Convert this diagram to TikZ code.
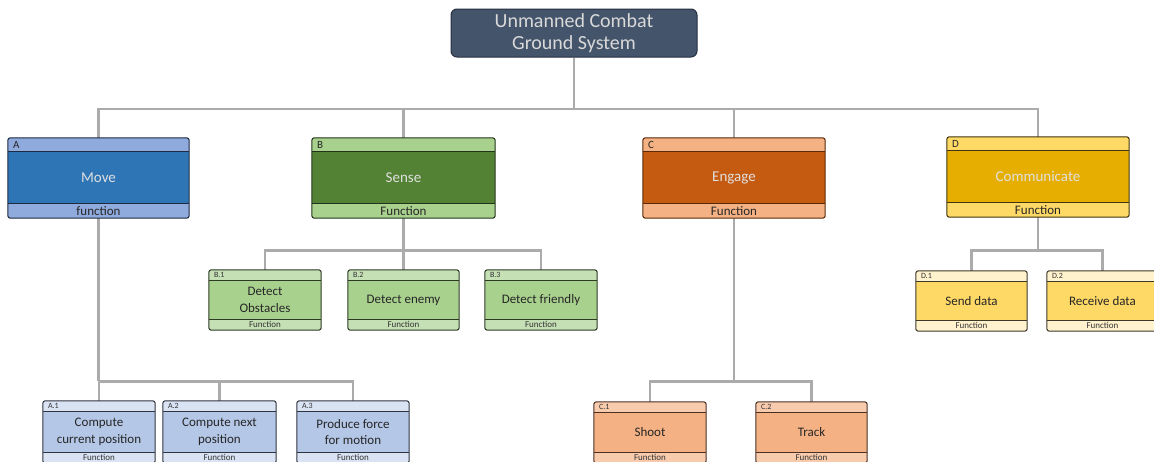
\documentclass[tikz,border=0pt]{standalone}
\usepackage{fontspec}
\setmainfont{Carlito}
\usetikzlibrary{calc,fit,backgrounds}
\definecolor{Ahd}{HTML}{8FAADC}\definecolor{Amn}{HTML}{2E75B6}\definecolor{Abd}{HTML}{1E2A40}
\definecolor{Bhd}{HTML}{A9D18E}\definecolor{Bmn}{HTML}{548235}\definecolor{Bbd}{HTML}{22331A}
\definecolor{Chd}{HTML}{F4B183}\definecolor{Cmn}{HTML}{C55A11}\definecolor{Cbd}{HTML}{5A2A08}
\definecolor{Dhd}{HTML}{FFD966}\definecolor{Dmn}{HTML}{E6AE00}\definecolor{Dbd}{HTML}{40350F}
\definecolor{Achd}{HTML}{DAE3F3}\definecolor{Acmn}{HTML}{B4C7E7}\definecolor{Acbd}{HTML}{303440}
\definecolor{Bchd}{HTML}{C5E0B4}\definecolor{Bcmn}{HTML}{A9D18E}\definecolor{Bcbd}{HTML}{2C3A26}
\definecolor{Cchd}{HTML}{F8CBAD}\definecolor{Ccmn}{HTML}{F4B183}\definecolor{Ccbd}{HTML}{4A3024}
\definecolor{Dchd}{HTML}{FFF2CC}\definecolor{Dcmn}{HTML}{FFD966}\definecolor{Dcbd}{HTML}{3E3828}
\definecolor{topfill}{HTML}{44546A}\definecolor{topbd}{HTML}{263040}
\definecolor{conncol}{HTML}{ABABAB}
\tikzset{
  ti/.style={font=\fontsize{15}{18}\selectfont, text=white!88!black, align=center, inner sep=0pt},
  tii/.style={font=\fontsize{13}{16.5}\selectfont, text=black!85, align=center, inner sep=0pt},
  li/.style={font=\fontsize{11}{12}\selectfont, text=black!85, inner sep=0pt},
  lii/.style={font=\fontsize{8}{9}\selectfont, text=black!80, inner sep=0pt},
  fi/.style={font=\fontsize{13}{14}\selectfont, text=black!85, inner sep=0pt},
  fii/.style={font=\fontsize{9}{10}\selectfont, text=black!80, inner sep=0pt},
  conn/.style={draw=conncol, line width=2.6pt},
}
\def\hhi{14}\def\fhi{15}\def\hhii{11}\def\fhii{11}
% #1 name, #2 nw, #3 se, #4 colour set, #5 level, #6 label, #7 text, #8 footer
\newcommand\fbx[8]{%
  \expandafter\let\expandafter\hh\csname hh#5\endcsname
  \expandafter\let\expandafter\fh\csname fh#5\endcsname
  \path (#2) coordinate (#1-nw) (#3) coordinate (#1-se);
  \node[fit=(#1-nw)(#1-se), inner sep=0pt] (#1) {};
  \fill[fill=#4hd, rounded corners=2.5pt] (#1.north west) rectangle (#1.south east);
  \fill[fill=#4mn] ($(#1.north west)+(0,\hh)$) rectangle ($(#1.south east)+(0,-\fh)$);
  \draw[draw=#4bd, line width=1pt] ($(#1.north west)+(0,\hh)$) -- ($(#1.north east)+(0,\hh)$);
  \draw[draw=#4bd, line width=1pt] ($(#1.south west)+(0,-\fh)$) -- ($(#1.south east)+(0,-\fh)$);
  \draw[draw=#4bd, line width=1pt, rounded corners=2.5pt] (#1.north west) rectangle (#1.south east);
  \node[l#5, anchor=west] (#1-l) at ($(#1.north west)+(5,{\hh/2})$) {#6};
  \node[t#5] (#1-t) at ($(#1.center)+(0,{(\hh-\fh)/2})$) {#7};
  \node[f#5] (#1-f) at ($(#1.south)+(0,{-\fh/2})$) {#8};
}
\begin{document}
\begin{tikzpicture}[x=1pt,y=-1pt]
\useasboundingbox (0,0) rectangle (1154,461);
\node[draw=topbd, line width=1pt, fill=topfill, rounded corners=6pt, minimum width=246pt, minimum height=48pt,
  text=white!85!black, font=\fontsize{20}{22}\selectfont, align=center, inner sep=0pt] (top) at (574,33) {Unmanned Combat\\Ground System};
\fbx{A}{8,138}{189,218}{A}{i}{A}{Move}{function}
\fbx{B}{312,138}{495,218}{B}{i}{B}{Sense}{Function}
\fbx{C}{643,138}{825,218}{C}{i}{C}{Engage}{Function}
\fbx{D}{947,137}{1129,217}{D}{i}{D}{Communicate}{Function}
\fbx{B1}{209,270}{321,330}{Bc}{ii}{B.1}{Detect\\Obstacles}{Function}
\fbx{B2}{348,270}{459,330}{Bc}{ii}{B.2}{Detect enemy}{Function}
\fbx{B3}{485,270}{597,330}{Bc}{ii}{B.3}{Detect friendly}{Function}
\fbx{D1}{916,271}{1027,331}{Dc}{ii}{D.1}{Send data}{Function}
\fbx{D2}{1047,271}{1158,331}{Dc}{ii}{D.2}{Receive data}{Function}
\fbx{A1}{43,401}{155,463}{Ac}{ii}{A.1}{Compute\\current position}{Function}
\fbx{A2}{163,401}{276,463}{Ac}{ii}{A.2}{Compute next\\position}{Function}
\fbx{A3}{297,401}{409,463}{Ac}{ii}{A.3}{Produce force\\for motion}{Function}
\fbx{C1}{594,402}{706,463}{Cc}{ii}{C.1}{Shoot}{Function}
\fbx{C2}{756,402}{867,463}{Cc}{ii}{C.2}{Track}{Function}
\coordinate (bus0) at (574,109);
\coordinate (busB) at ($(B.south)+(0,32)$);
\coordinate (busD) at ($(D.south)+(0,33)$);
\coordinate (busA) at ($(A.south)+(0,163)$);
\coordinate (busC) at ($(C.south)+(0,163)$);
\begin{scope}[on background layer]
\fill[white] (0,0) rectangle (1154,461);
\draw[conn] (top.south) -- (bus0);
\draw[conn] (A.north) |- (bus0) -| (D.north);
\draw[conn] (B.north) -- (B.north |- bus0);
\draw[conn] (C.north) -- (C.north |- bus0);
\draw[conn] (B.south) -- (busB);
\draw[conn] (B1.north) |- (busB) -| (B3.north);
\draw[conn] (B2.north) -- (B2.north |- busB);
\draw[conn] (D.south) -- (busD);
\draw[conn] (D1.north) |- (busD) -| (D2.north);
\draw[conn] (A.south) -- (busA);
\draw[conn] (A1.north) |- (busA) -| (A3.north);
\draw[conn] (A2.north) -- (A2.north |- busA);
\draw[conn] (C.south) -- (busC);
\draw[conn] (C1.north) |- (busC) -| (C2.north);
\end{scope}
\end{tikzpicture}
\end{document}
